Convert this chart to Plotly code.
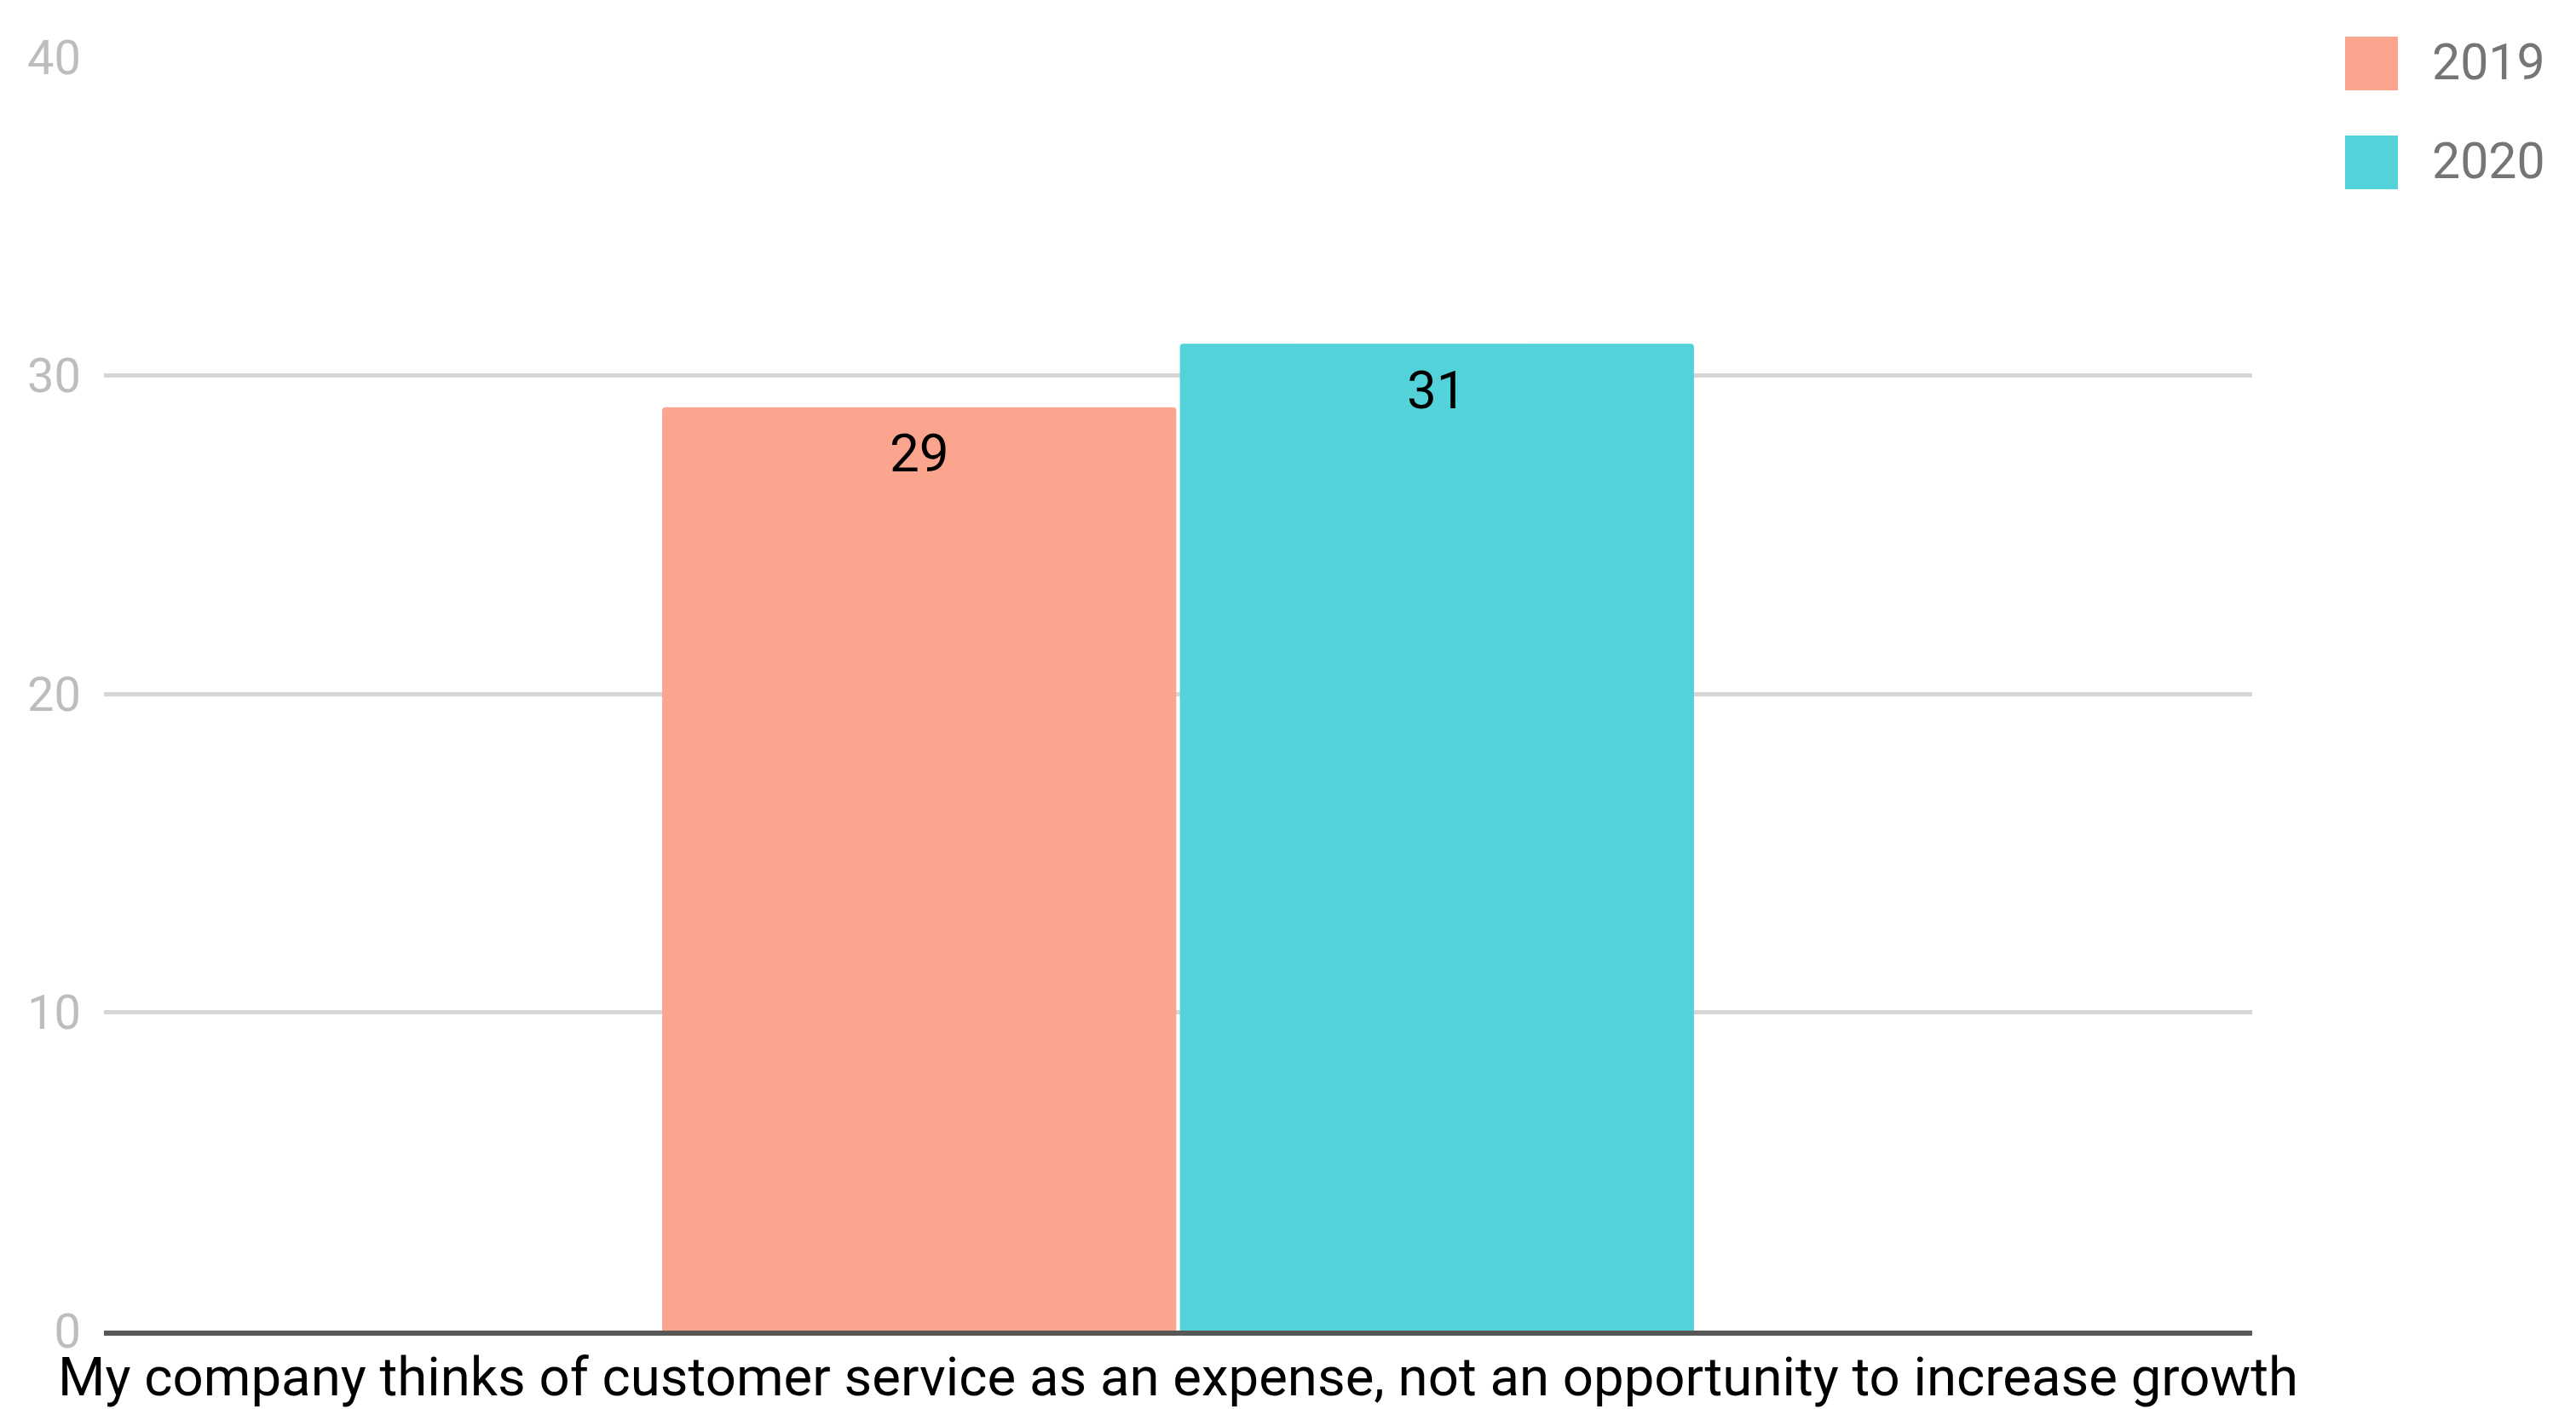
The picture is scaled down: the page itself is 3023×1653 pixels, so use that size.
import plotly.graph_objects as go

# ---- data ----
categories = ["My company thinks of customer service as an expense, not an opportunity to increase growth"]
series_names = ["2019", "2020"]
values_2019 = [29]
values_2020 = [31]
series_values = [values_2019, values_2020]
series_colors = ["#FBA58E", "#53D3D9"]
y_ticks = [0, 10, 20, 30, 40]

# figure fills the whole page (body margin removed in post_script)
W, H = 3023, 1653
ML, MT = 122, 67
MR = W - 2643
MB = H - 1561
PW, PH = W - ML - MR, H - MT - MB

BARGAP = 0.518
BARGROUPGAP = 0.007


def px_x(px):
    return (px - ML) / PW


def px_y(py):
    return (H - MB - py) / PH


fig = go.Figure()
for name, vals, col in zip(series_names, series_values, series_colors):
    fig.add_trace(go.Bar(
        x=categories, y=vals, name=name,
        marker=dict(color=col, cornerradius=4, line=dict(width=0)),
        showlegend=False, hoverinfo="x+y+name",
    ))

# value labels placed just inside the top of each bar
slot = PW * (1 - BARGAP) / len(series_names)
annotations = []
for i, vals in enumerate(series_values):
    shift = (i - (len(series_names) - 1) / 2) * slot
    for cat, v in zip(categories, vals):
        annotations.append(dict(
            x=cat, y=v, xref="x", yref="y", xshift=shift, yshift=-54,
            text=str(v), showarrow=False, xanchor="center", yanchor="middle",
            font=dict(family="Roboto", size=62, color="#000000"),
        ))

# custom legend (large square swatches like the reference)
shapes = []
for i, (name, col) in enumerate(zip(series_names, series_colors)):
    top = 43 + i * 116
    shapes.append(dict(type="rect", xref="paper", yref="paper",
                       x0=px_x(2752), x1=px_x(2814), y0=px_y(top + 63), y1=px_y(top),
                       fillcolor=col, line=dict(width=0), layer="above"))
    annotations.append(dict(xref="paper", yref="paper", x=px_x(2852), y=px_y(top + 29),
                            xanchor="left", yanchor="middle", text=name, showarrow=False,
                            font=dict(family="Roboto", size=59, color="#757575")))

fig.update_layout(
    width=W, height=H,
    margin=dict(l=ML, r=MR, t=MT, b=MB, pad=0, autoexpand=False),
    paper_bgcolor="white", plot_bgcolor="white",
    barmode="group", bargap=BARGAP, bargroupgap=BARGROUPGAP,
    font=dict(family="Roboto"),
    shapes=shapes, annotations=annotations,
    showlegend=False,
)
fig.update_yaxes(
    range=[0, 40], tickvals=y_ticks, ticktext=[str(t) for t in y_ticks],
    showgrid=True, gridcolor="#D6D6D6", gridwidth=5,
    zeroline=False, showline=False, ticks="", automargin=False,
    tickfont=dict(family="Roboto", size=56, color="#BDBDBD"),
    ticklabelstandoff=26,
)
fig.update_xaxes(
    showline=True, linecolor="#575757", linewidth=6, layer="above traces",
    ticks="", showgrid=False, automargin=False,
    tickfont=dict(family="Roboto", size=63.5, color="#000000"),
    ticklabelstandoff=-6,
)

fig.write_html(
    "out.html",
    config={"displayModeBar": False},
    post_script="document.body.style.margin='0';document.body.style.overflow='hidden';",
)
